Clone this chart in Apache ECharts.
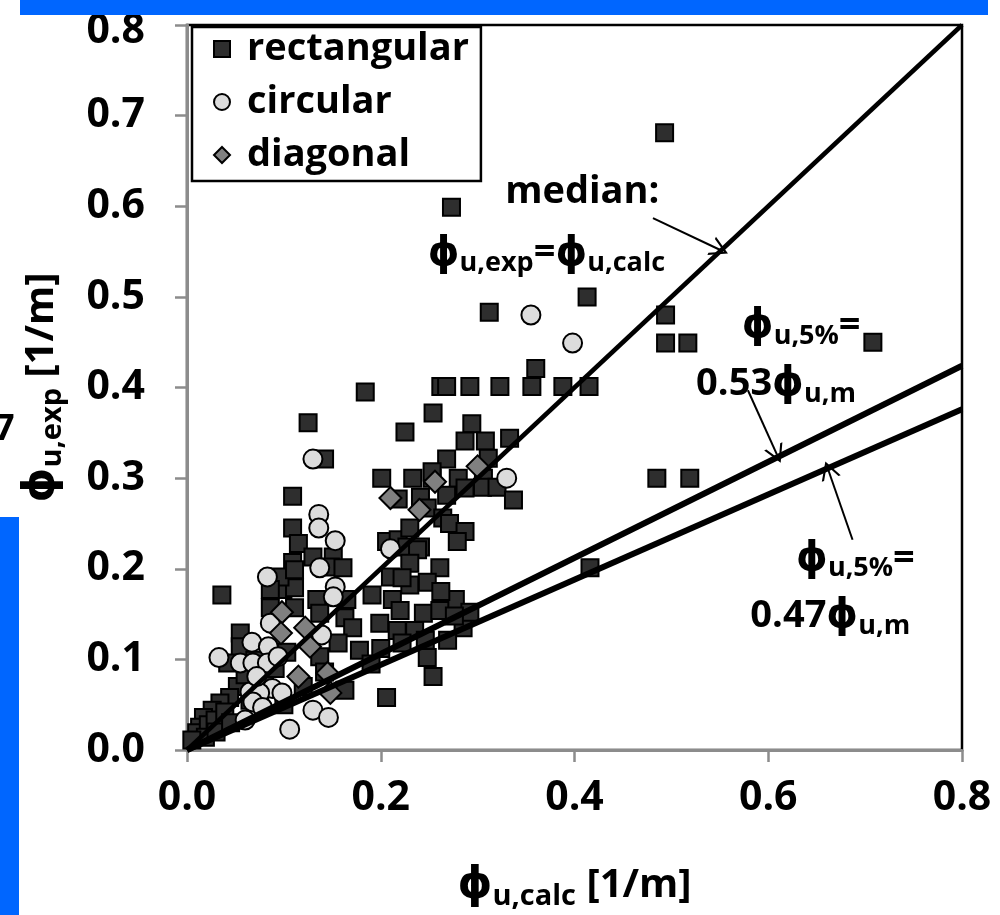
<!DOCTYPE html>
<html>
<head>
<meta charset="utf-8">
<script src="https://cdn.jsdelivr.net/npm/echarts@6/dist/echarts.min.js"></script>
<style>
  html, body { margin: 0; padding: 0; background: #fff; }
  #chart { width: 1000px; height: 915px; }
</style>
</head>
<body>
<div id="chart"></div>
<script>
// Measured vs. calculated ultimate curvature [1/m]: [phi_calc, phi_exp]
const rectangular = [
  [0.493,0.681],[0.273,0.599],[0.413,0.500],[0.312,0.483],[0.494,0.480],[0.494,0.449],[0.517,0.449],[0.708,0.450],[0.360,0.421],
  [0.262,0.401],[0.268,0.401],[0.292,0.401],[0.323,0.401],[0.356,0.401],[0.388,0.401],[0.415,0.401],
  [0.184,0.395],[0.254,0.372],[0.125,0.361],[0.294,0.360],[0.225,0.351],[0.287,0.341],[0.308,0.341],[0.333,0.344],
  [0.142,0.321],[0.268,0.321],[0.311,0.322],
  [0.201,0.300],[0.233,0.300],[0.253,0.300],[0.280,0.300],[0.306,0.300],[0.253,0.307],
  [0.485,0.300],[0.519,0.300],
  [0.268,0.281],[0.287,0.289],[0.305,0.290],[0.320,0.290],[0.337,0.276],
  [0.109,0.280],[0.218,0.277],[0.241,0.279],[0.248,0.267],
  [0.109,0.245],[0.264,0.256],[0.271,0.250],[0.287,0.241],[0.279,0.230],[0.115,0.228],
  [0.206,0.230],[0.218,0.232],[0.230,0.245],[0.227,0.224],[0.241,0.224],[0.238,0.221],
  [0.036,0.171],[0.416,0.201],
  [0.130,0.213],[0.151,0.213],[0.109,0.207],[0.089,0.182],[0.099,0.177],[0.111,0.179],[0.096,0.191],[0.111,0.199],[0.148,0.202],[0.161,0.201],
  [0.230,0.206],[0.261,0.201],[0.210,0.191],[0.248,0.185],[0.230,0.182],[0.191,0.171],[0.212,0.166],
  [0.134,0.166],[0.137,0.151],[0.165,0.166],[0.220,0.154],[0.244,0.151],[0.163,0.146],[0.171,0.135],[0.199,0.140],[0.217,0.132],[0.235,0.132],
  [0.156,0.118],[0.248,0.102],[0.254,0.081],[0.206,0.058],[0.137,0.103],
  [0.086,0.177],[0.086,0.157],[0.111,0.157],[0.055,0.129],[0.055,0.114],[0.042,0.096],[0.103,0.108],[0.142,0.086],
  [0.052,0.070],[0.044,0.058],[0.034,0.052],[0.026,0.044],[0.017,0.036],[0.013,0.025],[0.010,0.019],
  [0.163,0.066],[0.277,0.166],[0.285,0.135],[0.292,0.152],[0.269,0.121],[0.261,0.154],
  [0.022,0.028],[0.029,0.033],[0.039,0.042],[0.019,0.014],[0.005,0.011],[0.065,0.055],[0.075,0.061],[0.080,0.077],
  [0.060,0.083],[0.070,0.099],[0.091,0.090],[0.178,0.110],[0.190,0.095],[0.120,0.070],[0.100,0.050],[0.030,0.020],[0.045,0.030],
  [0.222,0.190],[0.262,0.175],[0.276,0.148],[0.246,0.121],[0.222,0.118],[0.200,0.112]
];
const circular = [
  [0.355,0.480],[0.398,0.449],[0.330,0.300],[0.130,0.321],[0.136,0.260],[0.136,0.245],[0.153,0.231],[0.210,0.222],
  [0.137,0.201],[0.153,0.180],[0.151,0.169],[0.083,0.191],[0.086,0.140],[0.139,0.127],[0.067,0.119],[0.084,0.114],
  [0.033,0.102],[0.055,0.096],[0.068,0.096],[0.083,0.096],[0.094,0.103],[0.088,0.068],[0.065,0.064],[0.075,0.063],
  [0.098,0.063],[0.068,0.053],[0.078,0.047],[0.130,0.044],[0.146,0.036],[0.106,0.023],[0.072,0.081],[0.060,0.033]
];
const diagonal = [
  [0.256,0.296],[0.300,0.313],[0.210,0.278],[0.240,0.265],[0.098,0.152],[0.097,0.129],
  [0.122,0.135],[0.127,0.114],[0.115,0.081],[0.148,0.063],[0.145,0.085]
];

// Reference lines phi_exp = k * phi_calc
const lineSlopes = [1.0, 0.53, 0.47];
const lineNames = ['median', '5% (0.53)', '5% (0.47)'];
const xTicks = [0, 0.2, 0.4, 0.6, 0.8];
const yTicks = [0, 0.1, 0.2, 0.3, 0.4, 0.5, 0.6, 0.7, 0.8];

// Annotation arrows [from, to] in data units
const arrows = [
  [[0.481, 0.587], [0.550, 0.552]],
  [[0.579, 0.397], [0.609, 0.326]],
  [[0.687, 0.232], [0.662, 0.309]]
];

const FONT = "'Open Sans', 'DejaVu Sans', sans-serif";
const X_MAX = xTicks[xTicks.length - 1];
const Y_MAX = yTicks[yTicks.length - 1];

const chart = echarts.init(document.getElementById('chart'), null, { renderer: 'canvas' });

const markerBorder = { borderColor: '#000', borderWidth: 2 };
const arrowHead = 'path://M50,0 L100,100 L88,100 L50,24 L12,100 L0,100 Z';

const phi = '\u03D5';
const richText = {
  p: { fontFamily: FONT, fontWeight: 'bold', fontSize: 40, color: '#000' },
  s: { fontFamily: FONT, fontWeight: 'bold', fontSize: 27, color: '#000', padding: [20, 0, 0, 0] },
  n: { fontFamily: FONT, fontWeight: 'bold', fontSize: 38, color: '#000' }
};
const titleRich = {
  p: { fontFamily: FONT, fontWeight: 'bold', fontSize: 44, color: '#000' },
  s: { fontFamily: FONT, fontWeight: 'bold', fontSize: 29, color: '#000', padding: [22, 0, 0, 0] },
  n: { fontFamily: FONT, fontWeight: 'bold', fontSize: 40, color: '#000' }
};
const tickFont = { fontFamily: FONT, fontWeight: 'bold', fontSize: 41, color: '#000' };

const lineSeries = lineSlopes.map((k, i) => ({
  name: lineNames[i],
  type: 'line',
  data: [[0, 0], [X_MAX, X_MAX * k]],
  symbol: 'none',
  silent: true,
  z: 5,
  lineStyle: { color: '#000', width: i === 0 ? 4.5 : 6 },
  markLine: {
    silent: true,
    symbol: ['none', arrowHead],
    symbolSize: [20, 18],
    lineStyle: { color: '#000', width: 2, type: 'solid' },
    label: { show: false },
    data: [[{ coord: arrows[i][0] }, { coord: arrows[i][1] }]]
  }
}));

const option = {
  animation: false,
  backgroundColor: '#fff',
  grid: {
    left: 187, right: 38, top: 25, bottom: 165,
    outerBoundsMode: 'none',
    containLabel: false,
    show: true, borderColor: '#000', borderWidth: 2.5, backgroundColor: 'transparent'
  },
  legend: {
    orient: 'vertical',
    left: 192, top: 27,
    padding: [2, 12, 6, 21],
    itemWidth: 16, itemHeight: 16, itemGap: 13,
    borderColor: '#000', borderWidth: 2.5,
    backgroundColor: '#fff',
    selectedMode: false,
    textStyle: {
      fontFamily: FONT, fontWeight: 'bold', fontSize: 38, lineHeight: 40, color: '#000',
      padding: [0, 0, 0, 12]
    },
    data: [
      { name: 'rectangular', icon: 'rect' },
      { name: 'circular', icon: 'circle' },
      { name: 'diagonal', icon: 'diamond' }
    ]
  },
  xAxis: {
    type: 'value', min: xTicks[0], max: X_MAX, interval: 0.2,
    splitLine: { show: false },
    axisLine: { lineStyle: { color: '#8c8c8c', width: 3 } },
    axisTick: { show: true, length: 12, lineStyle: { color: '#8c8c8c', width: 2.5 } },
    axisLabel: Object.assign({ margin: 28, formatter: v => v.toFixed(1) }, tickFont),
    name: `{p|${phi}}{s|u,calc}{n| [1/m]}`,
    nameLocation: 'middle', nameGap: 110,
    nameTextStyle: { rich: titleRich }
  },
  yAxis: {
    type: 'value', min: yTicks[0], max: Y_MAX, interval: 0.1,
    splitLine: { show: false },
    axisLine: { lineStyle: { color: '#8c8c8c', width: 3 } },
    axisTick: { show: true, length: 12, lineStyle: { color: '#8c8c8c', width: 2.5 } },
    axisLabel: Object.assign({
      margin: 42,
      // the top label sits a little lower, clear of the banner above the plot
      formatter: v => (v >= Y_MAX ? `{t|${v.toFixed(1)}}` : v.toFixed(1)),
      rich: { t: Object.assign({ padding: [12, 0, 0, 0] }, tickFont) }
    }, tickFont),
    name: `{p|${phi}}{s|u,exp}{n| [1/m]}`,
    nameLocation: 'middle', nameGap: 120, nameRotate: 90,
    nameTextStyle: { rich: titleRich }
  },
  series: [
    {
      name: 'rectangular', type: 'scatter', data: rectangular,
      symbol: 'rect', symbolSize: 17, z: 2,
      itemStyle: Object.assign({ color: '#2e2e2e', opacity: 1 }, markerBorder)
    },
    {
      name: 'circular', type: 'scatter', data: circular,
      symbol: 'circle', symbolSize: 19, z: 3,
      itemStyle: Object.assign({ color: '#dcdcdc', opacity: 1 }, markerBorder)
    },
    {
      name: 'diagonal', type: 'scatter', data: diagonal,
      symbol: 'diamond', symbolSize: 22, z: 4,
      itemStyle: Object.assign({ color: '#808080', opacity: 1 }, markerBorder)
    }
  ].concat(lineSeries)
};

chart.setOption(option);

// Text annotations next to the reference lines, anchored (centre) in data units
const notes = [
  { at: [0.408, 0.616], text: '{n|median:}' },
  { at: [0.371, 0.548], text: `{p|${phi}}{s|u,exp}{n|=}{p|${phi}}{s|u,calc}` },
  { at: [0.634, 0.468], text: `{p|${phi}}{s|u,5%}{n|=}` },
  { at: [0.608, 0.404], text: `{n|0.53}{p|${phi}}{s|u,m}` },
  { at: [0.690, 0.211], text: `{p|${phi}}{s|u,5%}{n|=}` },
  { at: [0.664, 0.148], text: `{n|0.47}{p|${phi}}{s|u,m}` }
];

const graphics = [
  { type: 'rect', shape: { x: 20, y: 0, width: 968, height: 15 }, style: { fill: '#0066ff' }, z: 100 },
  { type: 'rect', shape: { x: 0, y: 517, width: 19, height: 398 }, style: { fill: '#0066ff' }, z: 100 },
  { type: 'text', x: -6, y: 412, style: { text: '7', fontFamily: FONT, fontWeight: 'bold', fontSize: 36, fill: '#000' }, z: 100 }
];
notes.forEach(n => {
  const p = chart.convertToPixel({ gridIndex: 0 }, n.at);
  graphics.push({
    type: 'text', x: p[0], y: p[1], z: 50,
    style: { text: n.text, rich: richText, align: 'center', verticalAlign: 'middle' }
  });
});
chart.setOption({ graphic: graphics });
</script>
</body>
</html>
